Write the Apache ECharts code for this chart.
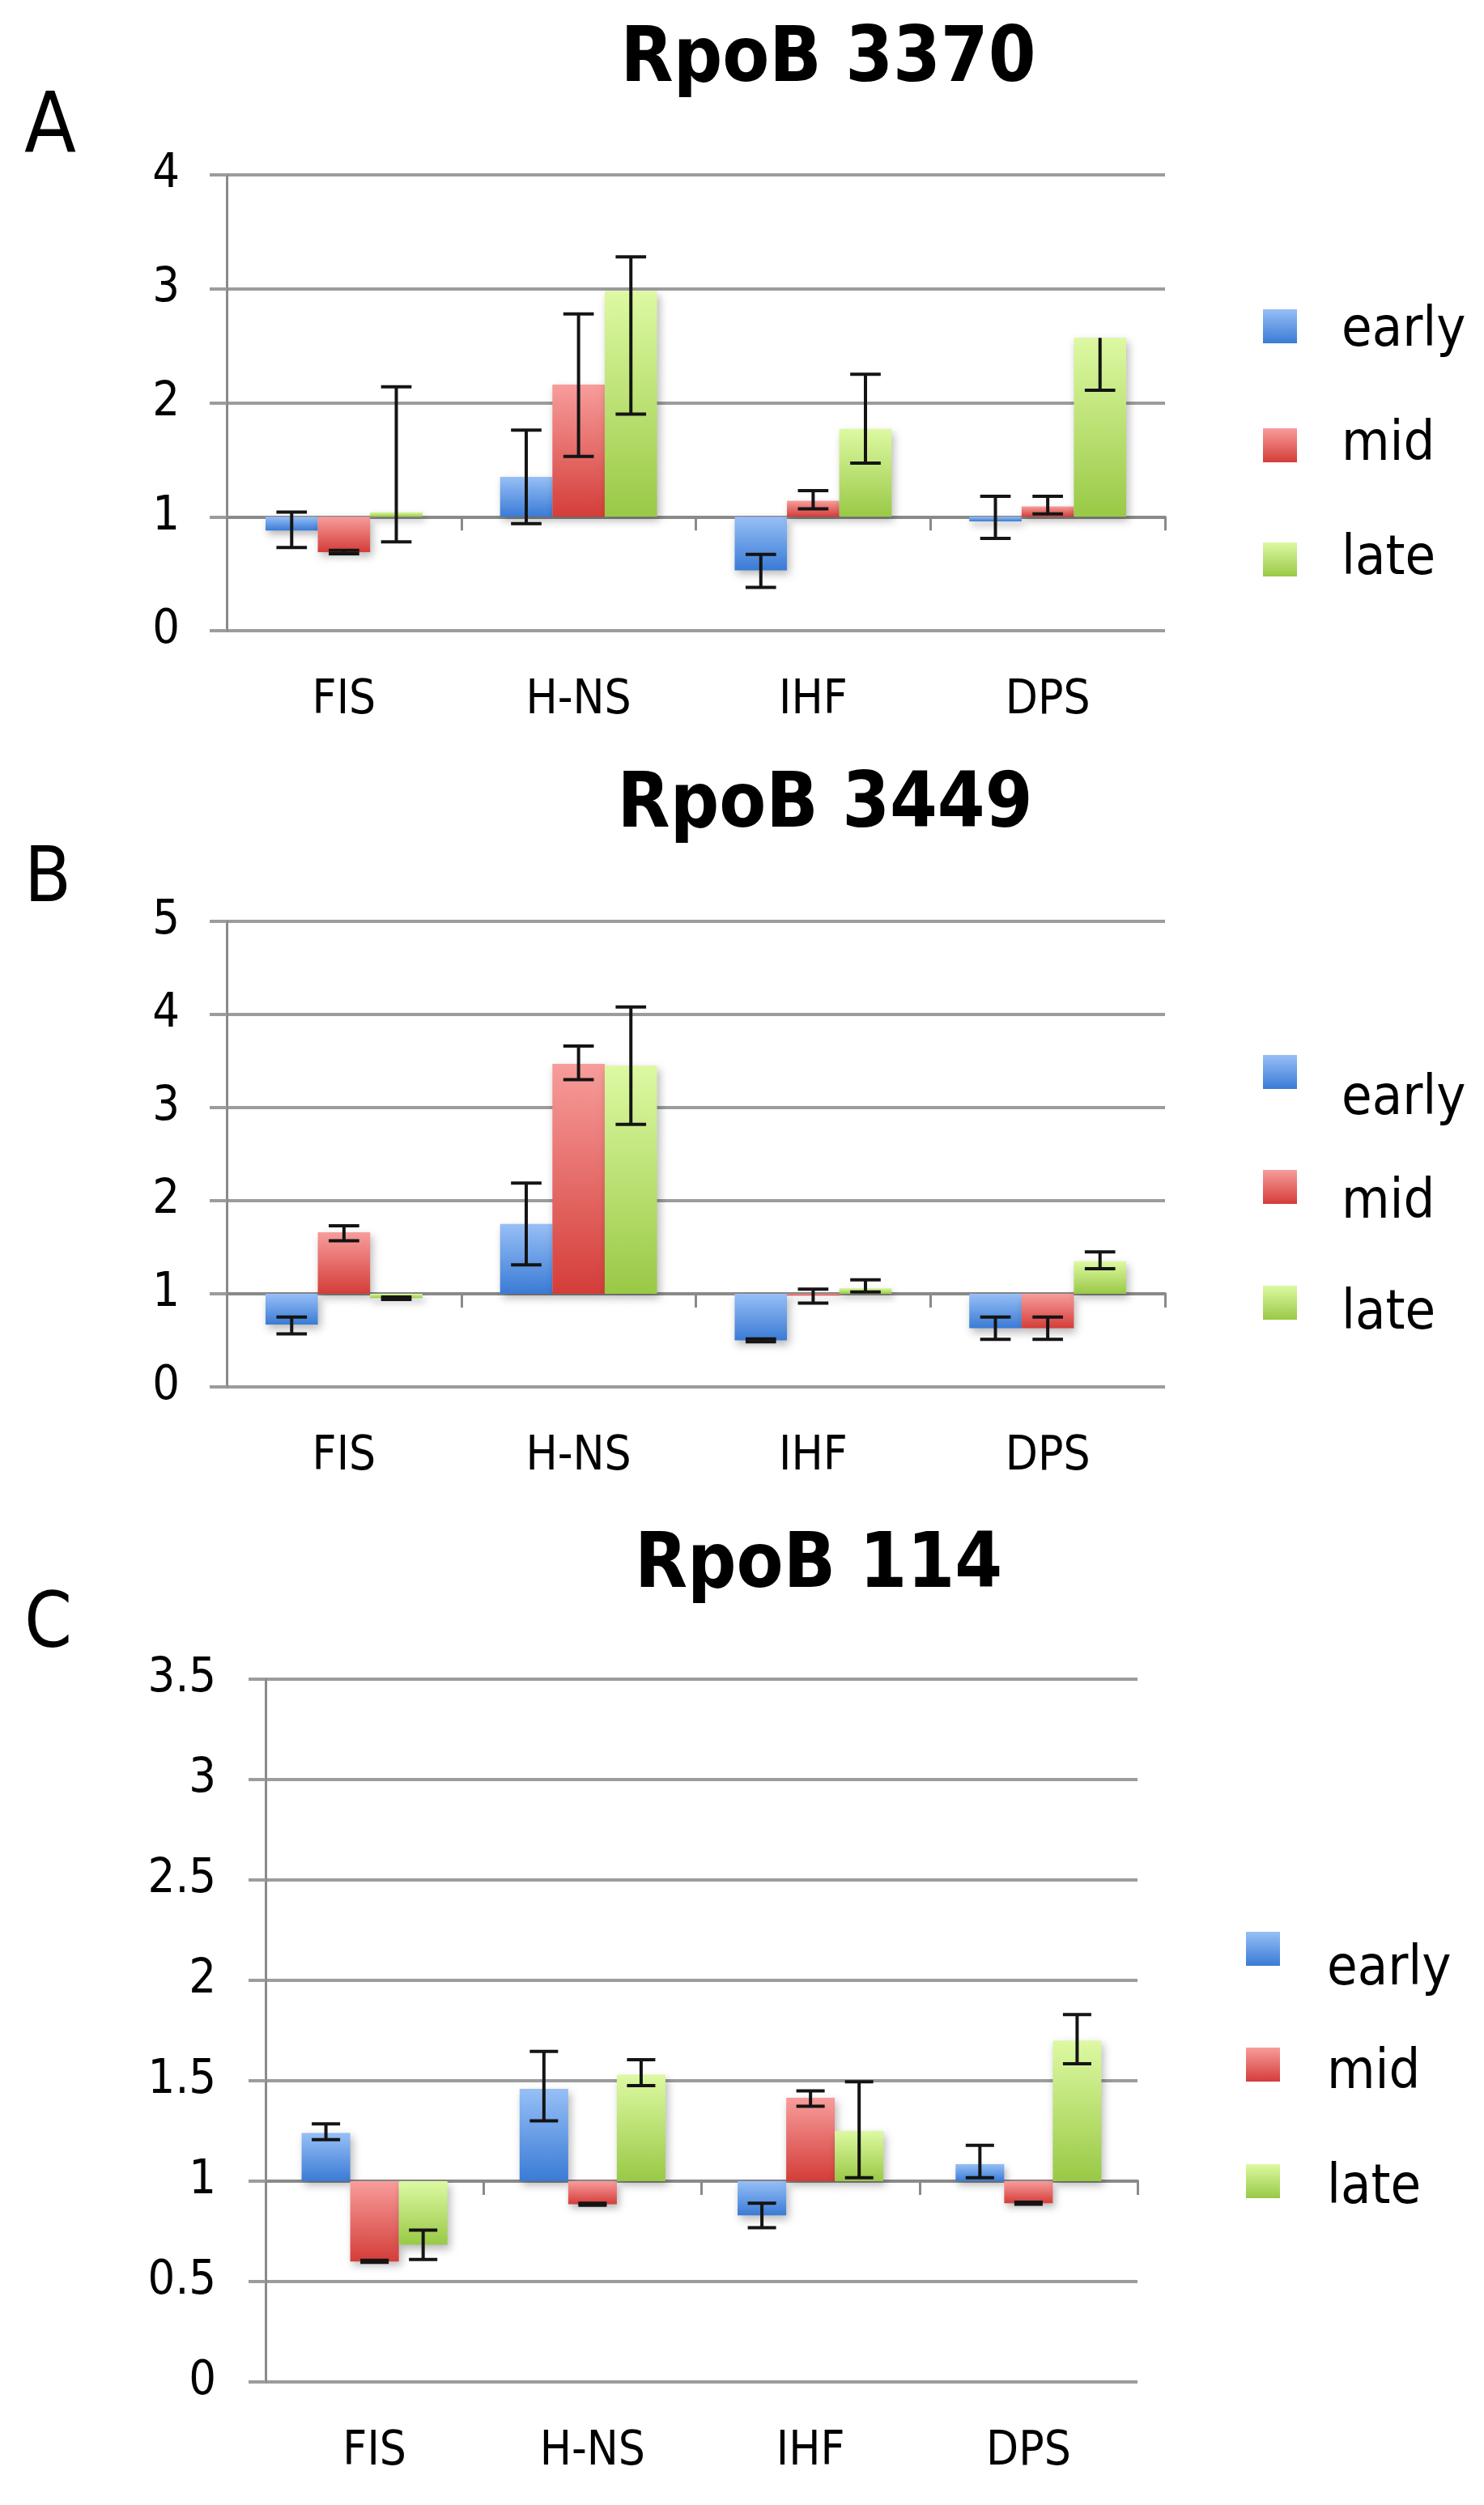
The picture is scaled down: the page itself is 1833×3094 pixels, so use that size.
<!DOCTYPE html>
<html><head><meta charset="utf-8">
<script src="https://cdn.jsdelivr.net/npm/echarts@6.0.0/dist/echarts.min.js"></script>
<style>html,body{margin:0;padding:0;background:#fff}#c{width:1833px;height:3094px}</style>
</head><body><div id="c"></div>
<script>
// ---------- DATA ----------
const CATEGORIES = ['FIS', 'H-NS', 'IHF', 'DPS'];
const SERIES_NAMES = ['early', 'mid', 'late'];
const BASELINE = 1; // bars grow from 1 (horizontal axis crosses at 1)

// Panel A: RpoB 3370
const A_TITLE = 'RpoB 3370';
const A_Y_MAX = 4, A_Y_STEP = 1;
const A_EARLY = [0.88, 1.35, 0.53, 0.96];
const A_EARLY_LO = [0.73, 0.94, 0.38, 0.81];
const A_EARLY_HI = [1.04, 1.76, 0.67, 1.18];
const A_MID = [0.69, 2.16, 1.14, 1.09];
const A_MID_LO = [0.675, 1.53, 1.07, 1.025];
const A_MID_HI = [0.705, 2.78, 1.23, 1.18];
const A_LATE = [1.04, 2.98, 1.77, 2.57];
const A_LATE_LO = [0.78, 1.90, 1.47, 2.11];
const A_LATE_HI = [2.14, 3.28, 2.25, 2.57];

// Panel B: RpoB 3449
const B_TITLE = 'RpoB 3449';
const B_Y_MAX = 5, B_Y_STEP = 1;
const B_EARLY = [0.67, 1.75, 0.50, 0.63];
const B_EARLY_LO = [0.57, 1.31, 0.485, 0.51];
const B_EARLY_HI = [0.75, 2.19, 0.515, 0.75];
const B_MID = [1.66, 3.47, 0.98, 0.63];
const B_MID_LO = [1.57, 3.30, 0.90, 0.51];
const B_MID_HI = [1.73, 3.66, 1.05, 0.75];
const B_LATE = [0.955, 3.45, 1.06, 1.35];
const B_LATE_LO = [0.94, 2.82, 1.02, 1.27];
const B_LATE_HI = [0.965, 4.08, 1.15, 1.45];

// Panel C: RpoB 114
const C_TITLE = 'RpoB 114';
const C_Y_MAX = 3.5, C_Y_STEP = 0.5;
const C_EARLY = [1.24, 1.46, 0.83, 1.085];
const C_EARLY_LO = [1.207, 1.30, 0.768, 1.017];
const C_EARLY_HI = [1.285, 1.646, 0.89, 1.178];
const C_MID = [0.60, 0.885, 1.415, 0.89];
const C_MID_LO = [0.596, 0.88, 1.373, 0.885];
const C_MID_HI = [0.606, 0.89, 1.45, 0.895];
const C_LATE = [0.683, 1.53, 1.25, 1.70];
const C_LATE_LO = [0.61, 1.476, 1.017, 1.585];
const C_LATE_HI = [0.756, 1.605, 1.495, 1.83];

// ---------- STYLE / LAYOUT ----------
const FONT = '"DejaVu Sans Condensed", "Liberation Sans Narrow", "DejaVu Sans", sans-serif';
const GRID_COLOR = '#9c9c9c';
const AXIS_COLOR = '#8a8a8a';
const COLORS = [
  ['#97bff6', '#3a7bd5'],
  ['#f79d9b', '#d43d39'],
  ['#ddf9a2', '#99c946']
];
const BAR_FRAC = 0.223;
const CAP_FRAC = 0.13;
const LEGEND_FONT = 68;

const PANELS = [
  { title: A_TITLE, letter: 'A', max: A_Y_MAX, step: A_Y_STEP,
    vals: [A_EARLY, A_MID, A_LATE], lo: [A_EARLY_LO, A_MID_LO, A_LATE_LO], hi: [A_EARLY_HI, A_MID_HI, A_LATE_HI],
    grid: { left: 280, top: 216, width: 1159, height: 563 },
    titleX: 1023, titleY: 76, letterSize: 104, letterY: 160, yMargin: 58,
    legendX: 1560, legendTops: [375, 516, 657], legendOff: [6, 0, 0], legendPadL: 50 },
  { title: B_TITLE, letter: 'B', max: B_Y_MAX, step: B_Y_STEP,
    vals: [B_EARLY, B_MID, B_LATE], lo: [B_EARLY_LO, B_MID_LO, B_LATE_LO], hi: [B_EARLY_HI, B_MID_HI, B_LATE_HI],
    grid: { left: 280, top: 1138, width: 1159, height: 575 },
    titleX: 1019, titleY: 997, letterSize: 94, letterY: 1089, yMargin: 58,
    legendX: 1560, legendTops: [1303, 1445, 1588], legendOff: [34, 20, 14], legendPadL: 50 },
  { title: C_TITLE, letter: 'C', max: C_Y_MAX, step: C_Y_STEP,
    vals: [C_EARLY, C_MID, C_LATE], lo: [C_EARLY_LO, C_MID_LO, C_LATE_LO], hi: [C_EARLY_HI, C_MID_HI, C_LATE_HI],
    grid: { left: 328, top: 2074, width: 1077, height: 868 },
    titleX: 1011, titleY: 1936, letterSize: 94, letterY: 2010, yMargin: 61,
    legendX: 1539, legendTops: [2386, 2527, 2669], legendOff: [26, 11, 9], legendPadL: 53 }
];

function grad(k) {
  return new echarts.graphic.LinearGradient(0, 0, 0, 1, [
    { offset: 0, color: COLORS[k][0] }, { offset: 1, color: COLORS[k][1] }
  ]);
}

function makeRender(k) {
  return function (params, api) {
    const cat = api.value(0), v = api.value(1), lo = api.value(2), hi = api.value(3);
    const band = api.size([1, 0])[0];
    const bw = band * BAR_FRAC;
    const base = api.coord([cat, BASELINE]);
    const cx = base[0] + (k - 1) * bw;
    const yv = api.coord([cat, v])[1];
    const top = Math.min(yv, base[1]);
    const h = Math.abs(yv - base[1]);
    const ylo = api.coord([cat, lo])[1];
    const yhi = api.coord([cat, hi])[1];
    const cw = band * CAP_FRAC / 2;
    const errStyle = { stroke: '#141414', lineWidth: 4 };
    const children = [
      { type: 'rect', shape: { x: cx - bw / 2, y: top, width: bw, height: h },
        style: { fill: grad(k), shadowBlur: 10, shadowOffsetX: 3, shadowOffsetY: 5, shadowColor: 'rgba(0,0,0,0.28)' } },
      { type: 'line', z2: 10, shape: { x1: cx, y1: ylo, x2: cx, y2: yhi }, style: errStyle },
      { type: 'line', z2: 10, shape: { x1: cx - cw, y1: ylo, x2: cx + cw, y2: ylo }, style: errStyle }
    ];
    if (hi !== v) {
      children.push({ type: 'line', z2: 10, shape: { x1: cx - cw, y1: yhi, x2: cx + cw, y2: yhi }, style: errStyle });
    }
    return { type: 'group', children: children };
  };
}

const option = {
  backgroundColor: '#ffffff',
  animation: false,
  title: [], grid: [], xAxis: [], yAxis: [], series: [], legend: []
};

PANELS.forEach(function (p, pi) {
  option.title.push({
    text: p.title, left: p.titleX, top: p.titleY, textAlign: 'center', textVerticalAlign: 'middle', padding: 0,
    textStyle: { fontFamily: FONT, fontWeight: 'bold', fontSize: 94, color: '#000' }
  });
  option.title.push({
    text: p.letter, left: 30, top: p.letterY, textVerticalAlign: 'middle', padding: 0,
    textStyle: { fontFamily: FONT, fontWeight: 'normal', fontSize: p.letterSize, color: '#000' }
  });
  option.grid.push(Object.assign({ containLabel: false }, p.grid));
  const H = p.grid.height;
  option.xAxis.push({
    gridIndex: pi, type: 'category', data: CATEGORIES, position: 'bottom',
    axisLine: { show: false }, axisTick: { show: false }, splitLine: { show: false },
    axisLabel: { margin: 58, fontSize: 58, color: '#000', fontFamily: FONT }
  });
  option.xAxis.push({
    gridIndex: pi, type: 'category', data: CATEGORIES, position: 'bottom',
    offset: -H * BASELINE / p.max,
    axisLine: { show: true, lineStyle: { color: AXIS_COLOR, width: 4 } },
    axisTick: { show: true, length: 17, lineStyle: { color: AXIS_COLOR, width: 3 } },
    axisLabel: { show: false }, splitLine: { show: false }
  });
  option.yAxis.push({
    gridIndex: pi, type: 'value', min: 0, max: p.max, interval: p.step,
    axisLine: { show: true, lineStyle: { color: AXIS_COLOR, width: 3 } },
    axisTick: { show: true, length: 21, lineStyle: { color: GRID_COLOR, width: 4 } },
    splitLine: { show: true, lineStyle: { color: GRID_COLOR, width: 4 } },
    axisLabel: { margin: p.yMargin, fontSize: 59, color: '#000', fontFamily: FONT }
  });
  SERIES_NAMES.forEach(function (name, k) {
    const data = CATEGORIES.map(function (c, i) { return [i, p.vals[k][i], p.lo[k][i], p.hi[k][i]]; });
    option.series.push({
      type: 'custom', name: name, xAxisIndex: pi * 2, yAxisIndex: pi,
      itemStyle: { color: grad(k) },
      encode: { x: 0, y: [1, 2, 3] },
      renderItem: makeRender(k), data: data, z: 2 + k
    });
    const off = p.legendOff[k];
    option.legend.push({
      data: [{ name: name, itemStyle: { color: grad(k) } }],
      left: p.legendX, top: p.legendTops[k], padding: 0,
      orient: 'horizontal', icon: 'rect', itemWidth: 42, itemHeight: 42,
      selectedMode: false,
      formatter: '{t|{name}}',
      textStyle: {
        fontFamily: FONT, fontSize: LEGEND_FONT, color: '#000',
        padding: [2 * off, 0, 0, p.legendPadL],
        rich: { t: { fontFamily: FONT, fontSize: LEGEND_FONT, color: '#000', lineHeight: 42 } }
      }
    });
  });
});

const chart = echarts.init(document.getElementById('c'), null, { renderer: 'canvas' });
chart.setOption(option);
</script></body></html>
